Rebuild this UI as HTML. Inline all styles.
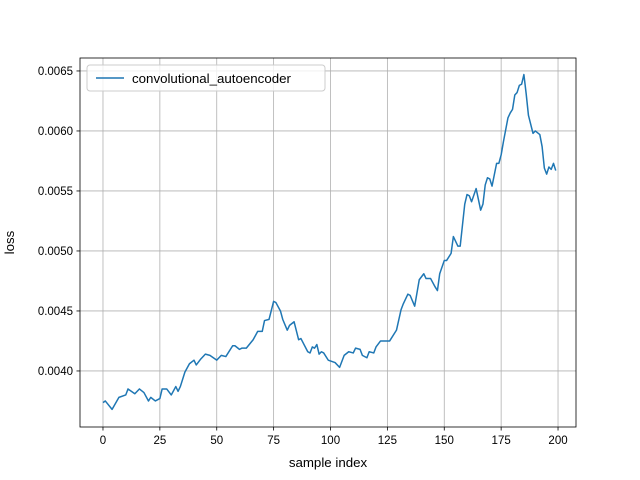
<!DOCTYPE html>
<html><head><meta charset="utf-8"><style>body{margin:0;background:#fff}svg{display:block;font-family:"Liberation Sans","DejaVu Sans",sans-serif}</style></head>
<body>
<svg id="chart" width="640" height="480" viewBox="0 0 640 480" xmlns="http://www.w3.org/2000/svg">
<rect width="640" height="480" fill="#fff"/>
<g id="grid"></g>
<g id="ticks"></g>
<path id="series" fill="none" stroke="#1f77b4" stroke-width="1.5" stroke-linejoin="round"/>
<rect x="80" y="58" width="496" height="369" fill="none" stroke="#000" stroke-width="0.8"/>
<text x="328" y="467" font-size="13.3" text-anchor="middle">sample index</text>
<text transform="translate(14,242.5) rotate(-90)" font-size="13.3" text-anchor="middle">loss</text>
<g>
<rect x="87" y="65" width="238" height="26" rx="3" fill="#fff" fill-opacity="0.8" stroke="#ccc"/>
<line x1="96" y1="78" x2="124" y2="78" stroke="#1f77b4" stroke-width="1.5"/>
<text x="132" y="83" font-size="13.3">convolutional_autoencoder</text>
</g>
</svg>
<script>
const xs=[0,1,4,7,10,11,14,16,18,20,21,23,25,26,28,30,32,33,34,36,38,40,41,43,45,47,50,52,54,57,58,60,61,63,66,68,70,71,73,75,76,78,79,81,82,84,86,87,90,91,92,93,94,95,96,97,99,102,104,106,108,110,111,113,114,116,117,119,120,122,124,126,129,131,132,134,135,137,139,141,142,144,146,147,148,150,151,153,154,156,157,159,160,161,162,164,166,167,168,169,170,171,173,174,175,176,178,179,180,181,182,183,184,185,186,187,189,190,192,193,194,195,196,197,198,199];
const losses=[0.003736,0.00375,0.00368,0.00378,0.0038,0.00385,0.00381,0.00385,0.00382,0.00375,0.00378,0.00375,0.00377,0.00385,0.00385,0.0038,0.00387,0.00383,0.00387,0.00399,0.00406,0.00409,0.00405,0.0041,0.00414,0.00413,0.00409,0.00413,0.00412,0.00421,0.00421,0.00418,0.00419,0.00419,0.00426,0.00433,0.00433,0.00442,0.00443,0.00458,0.00457,0.0045,0.00443,0.00434,0.00438,0.00441,0.00426,0.00427,0.00416,0.00415,0.0042,0.00419,0.00422,0.00414,0.00416,0.00415,0.00409,0.00407,0.00403,0.00413,0.00416,0.00415,0.00419,0.00418,0.00413,0.00411,0.00416,0.00415,0.0042,0.00425,0.00425,0.00425,0.00434,0.00451,0.00456,0.00464,0.00463,0.00454,0.00476,0.00481,0.00477,0.00477,0.0047,0.00467,0.00481,0.00492,0.00492,0.00498,0.00512,0.00504,0.00504,0.00539,0.00547,0.00546,0.00541,0.00552,0.00534,0.00539,0.00555,0.00561,0.0056,0.00554,0.00573,0.00573,0.0058,0.00591,0.00611,0.00615,0.00618,0.0063,0.00632,0.00638,0.00639,0.00647,0.00631,0.00613,0.00598,0.006,0.00597,0.00587,0.00569,0.00564,0.0057,0.00568,0.00573,0.00567];
const xTicks=[0,25,50,75,100,125,150,175,200];
const yTicks=[0.0040,0.0045,0.0050,0.0055,0.0060,0.0065];
const yTickLabels=["0.0040","0.0045","0.0050","0.0055","0.0060","0.0065"];
const L=80,R=576,T=58,B=427,x0=-10.1,x1=207.9,y0=0.003533,y1=0.006608;
const sx=v=>L+(v-x0)/(x1-x0)*(R-L);
const sy=v=>B-(v-y0)/(y1-y0)*(B-T);
const NS='http://www.w3.org/2000/svg';
const grid=document.getElementById('grid'),ticks=document.getElementById('ticks');
function mk(tag,attrs,parent){const e=document.createElementNS(NS,tag);for(const k in attrs)e.setAttribute(k,attrs[k]);parent.appendChild(e);return e;}
xTicks.forEach(v=>{const x=sx(v);
const g=mk('line',{x1:x,x2:x,y1:T,y2:B,stroke:'#b0b0b0','stroke-width':0.8},grid);


const t=mk('line',{x1:x,x2:x,y1:B,y2:B+3.5,stroke:'#000','stroke-width':0.8},ticks);


const l=mk('text',{x:x,y:B+17,'font-size':11.5,'text-anchor':'middle'},ticks);l.textContent=v;


});
yTicks.forEach((v,i)=>{const y=sy(v);
const g=mk('line',{x1:L,x2:R,y1:y,y2:y,stroke:'#b0b0b0','stroke-width':0.8},grid);


const t=mk('line',{x1:L-3.5,x2:L,y1:y,y2:y,stroke:'#000','stroke-width':0.8},ticks);


const l=mk('text',{x:L-7,y:y+4,'font-size':11.5,'text-anchor':'end'},ticks);l.textContent=yTickLabels[i];


});
document.getElementById('series').setAttribute('d',xs.map((x,i)=>(i?'L':'M')+sx(x).toFixed(2)+','+sy(losses[i]).toFixed(2)).join(''));
</script>
</body></html>
